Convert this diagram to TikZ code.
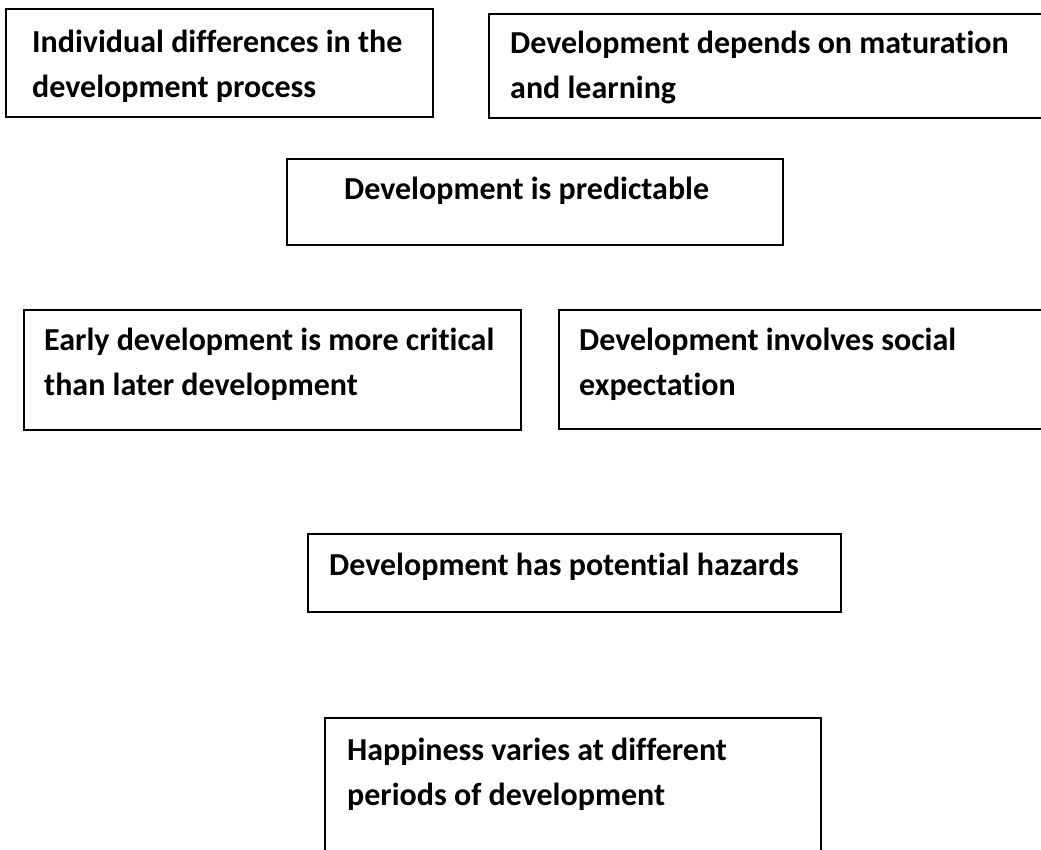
\documentclass[tikz,border=0pt]{standalone}
\usepackage{fontspec}
\setmainfont{Carlito}[Ligatures=NoCommon]
\begin{document}
\begin{tikzpicture}[x=1pt, y=-1pt]
      \tikzstyle{BOX} = [draw, line width=1.8pt, rectangle, anchor=north west, inner sep=0pt]
      \tikzstyle{TXT} = [anchor=base west, align=left, inner sep=0pt, font=\fontsize{32}{45}\selectfont\bfseries]

      \clip (0,0) rectangle (1041,850);

      %%%%% BOXES
      \node[BOX, minimum width=427pt, minimum height=108pt](b1) at (5,8) {};
      \node[BOX, minimum width=580pt, minimum height=104pt](b2) at (488,13) {};

      \node[BOX, minimum width=496pt, minimum height=86pt](b3) at (286,158) {};

      \node[BOX, minimum width=497pt, minimum height=120pt](b4) at (23,309) {};
      \node[BOX, minimum width=510pt, minimum height=119pt](b5) at (558,309) {};

      \node[BOX, minimum width=533pt, minimum height=78pt](b6) at (307,533) {};

      \node[BOX, minimum width=496pt, minimum height=160pt](b7) at (324,717) {};

      %%%%% TEXTS (base = last line)
      \node[TXT](t1) at ([shift={(27,90)}]b1.north west) {Individual differences in the\\development process};
      \node[TXT](t2) at ([shift={(22,86)}]b2.north west) {Development depends on maturation\\and learning};

      \node[TXT](t3) at ([shift={(58,42)}]b3.north west) {Development is predictable};

      \node[TXT](t4) at ([shift={(21,86)}]b4.north west) {Early development is more critical\\than later development};
      \node[TXT](t5) at ([shift={(21,86)}]b5.north west) {Development involves social\\expectation};

      \node[TXT](t6) at ([shift={(22,42)}]b6.north west) {Development has potential hazards};

      \node[TXT](t7) at ([shift={(23,88)}]b7.north west) {Happiness varies at different\\periods of development};
    \end{tikzpicture}
\end{document}
